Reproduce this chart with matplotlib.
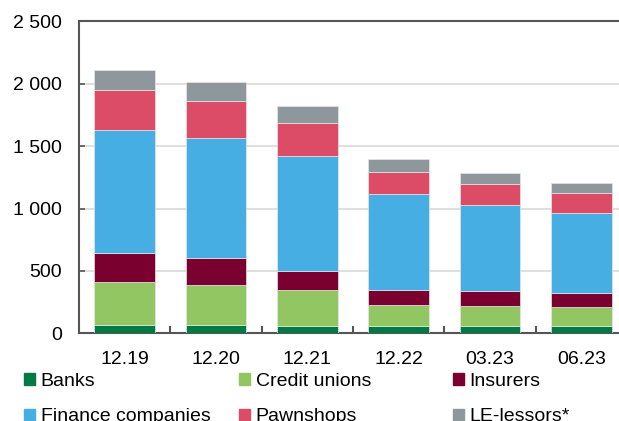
import matplotlib.pyplot as plt
from matplotlib.patches import Patch

plt.rcParams['font.family'] = ['Liberation Sans', 'DejaVu Sans']

periods = ['12.19', '12.20', '12.21', '12.22', '03.23', '06.23']
banks = [67, 67, 61, 58, 58, 58]
credit_unions = [344, 323, 283, 166, 161, 153]
insurers = [232, 211, 153, 126, 120, 115]
finance = [988, 961, 926, 766, 686, 635]
pawnshops = [321, 302, 262, 179, 169, 161]
le_lessors = [158, 147, 136, 102, 90, 82]

series = [
    ('Banks', banks, '#007a45'),
    ('Credit unions', credit_unions, '#92c663'),
    ('Insurers', insurers, '#7a0030'),
    ('Finance companies', finance, '#46aee3'),
    ('Pawnshops', pawnshops, '#dc4c66'),
    ('LE-lessors*', le_lessors, '#8e979c'),
]

yticks = [0, 500, 1000, 1500, 2000, 2500]
ylabels = ['0', '500', '1 000', '1 500', '2 000', '2 500']

fs = 14

fig = plt.figure(figsize=(6.19, 4.21), dpi=100)
ax = fig.add_axes([79 / 619, 87.7 / 421, 548 / 619, 312 / 421])

x = range(len(periods))
bottom = [0] * len(periods)
for name, vals, col in series:
    ax.bar(x, vals, width=0.667, bottom=bottom, color=col,
           edgecolor='#e6e6e6', linewidth=0.5, zorder=3)
    bottom = [b + v for b, v in zip(bottom, vals)]

ax.set_xlim(-0.5, 5.5)
ax.set_ylim(0, 2500)
ax.set_yticks(yticks)
ax.set_yticklabels(ylabels)
ax.set_xticks(list(x))
ax.set_xticklabels(periods)
ax.set_xticks([i + 0.5 for i in range(5)], minor=True)

ax.grid(axis='y', color='#d9d9d9', linewidth=1.2, zorder=0)
for s in ['left', 'top', 'bottom']:
    ax.spines[s].set_color('#555555')
    ax.spines[s].set_linewidth(1.5)
ax.spines['right'].set_visible(False)

ax.tick_params(axis='y', direction='in', length=4, width=1.2, color='#555555',
               labelsize=fs, pad=12)
ax.tick_params(axis='x', which='major', length=0, labelsize=fs, pad=12.5)
ax.tick_params(axis='x', which='minor', direction='in', length=5, width=1.5,
               color='#555555')

handles = {name: Patch(color=col) for name, _, col in series}
cols = [(['Banks', 'Finance companies'], 24),
        (['Credit unions', 'Pawnshops'], 239),
        (['Insurers', 'LE-lessors*'], 453)]
for names, xpos in cols:
    leg = fig.legend([handles[n] for n in names], names, loc='upper left',
                     bbox_to_anchor=(xpos / 619, 1 - 373 / 421),
                     frameon=False, fontsize=fs, borderpad=0,
                     borderaxespad=0, handlelength=0.55, handleheight=0.55,
                     handletextpad=0.3, labelspacing=0.95)

fig.savefig('out.png', dpi=100)
